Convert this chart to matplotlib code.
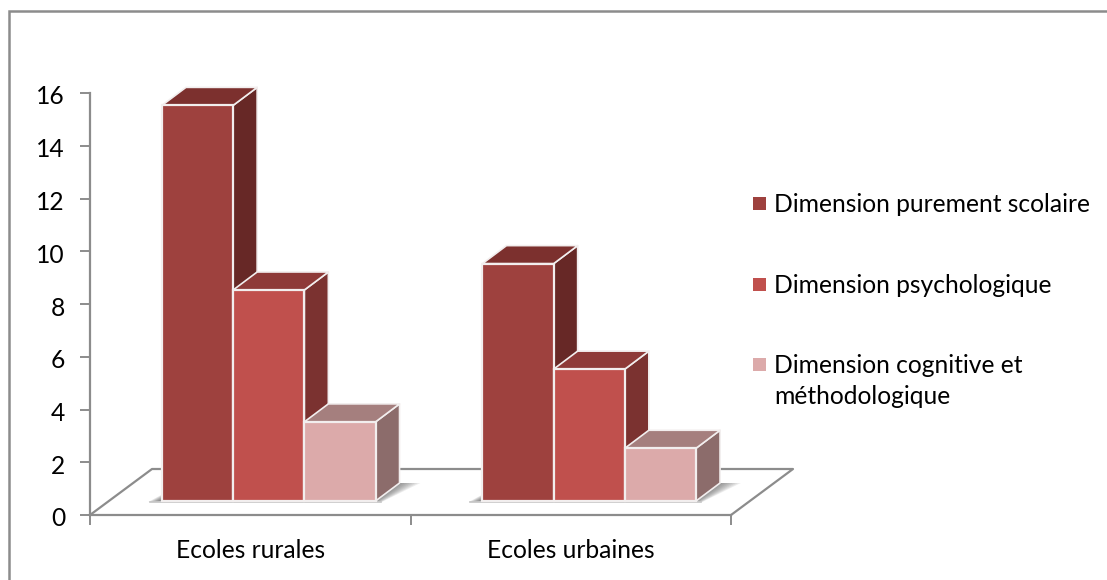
import matplotlib
matplotlib.use("Agg")
import matplotlib.pyplot as plt
from matplotlib.lines import Line2D
from matplotlib.patches import Polygon, Rectangle
from matplotlib.transforms import ScaledTranslation

plt.rcParams["font.family"] = ["Lato", "DejaVu Sans"]

categories = ["Ecoles rurales", "Ecoles urbaines"]
series = ["Dimension purement scolaire", "Dimension psychologique",
          "Dimension cognitive et\nméthodologique"]
scolaire = [15, 9]
psycho = [8, 5]
cognitive = [3, 2]
values = [scolaire, psycho, cognitive]

front_colors = ["#9e413e", "#c0504d", "#dcaaaa"]
top_colors = ["#7c302e", "#8e3a38", "#a57f7e"]
side_colors = ["#672826", "#7b3230", "#8c6c6b"]

W, H = 1107, 580
fig = plt.figure(figsize=(W / 100, H / 100), dpi=100)
# plot area in pixels: x 90..731, y 93..515
ax = fig.add_axes([90 / W, 1 - 515 / H, 641 / W, 422 / H])
ax.set_xlim(0, 2)
ax.set_ylim(0, 16)

px = 2 / 641      # one pixel in x units
py = 16 / 422     # one pixel in y units

# chart border, only top and left fall inside the frame
fig.add_artist(Line2D([9 / W, 9 / W, 1], [0, 1 - 11 / H, 1 - 11 / H], color="#8c8c8c",
                      lw=1.8, transform=fig.transFigure, solid_joinstyle="miter"))

# floor outline
floor_dx, floor_dy = 62 * px, 46 * py
ax.plot([0, floor_dx, 2 + floor_dx, 2], [0, floor_dy, floor_dy, 0],
        color="#8c8c8c", lw=1.6, clip_on=False, zorder=1)

# bar geometry
bar_w = 71.2 * px
x_off = 18.5 * px
y_off = 14 * py
dx, dy = 24 * px, 18 * py

for c in range(len(categories)):
    left = c + 0.5 - 1.5 * bar_w + x_off
    x_end = left + 3 * bar_w

    # soft shadow on the floor
    for i in range(8):
        a = 0.10
        grow = (8 - i) * 2.6 * px
        ax.add_patch(Polygon([(x_end, y_off), (x_end + dx, y_off + dy),
                              (x_end + dx + grow, y_off + dy),
                              (x_end + grow * 0.3, y_off - 1 * py)],
                             closed=True, fc="#555555", ec="none", alpha=a,
                             zorder=2, clip_on=False))
        ax.add_patch(Polygon([(left, y_off), (left, y_off + (8 - i) * 0.8 * py),
                              (left - (8 - i) * 1.7 * px, y_off - 1 * py)],
                             closed=True, fc="#444444", ec="none", alpha=a + 0.04,
                             zorder=2, clip_on=False))
    ax.plot([left - 12 * px, x_end + 5 * px], [y_off - 1 * py, y_off - 1 * py],
            color="#c4c4c4", lw=1.2, zorder=2, clip_on=False)

    # left to right so each side face gets overlapped by the next bar
    for s in range(len(series)):
        v = values[s][c]
        x0 = left + s * bar_w
        x1 = x0 + bar_w
        y0 = y_off
        y1 = y_off + v
        z = 3 + s
        ax.add_patch(Polygon([(x1, y0), (x1 + dx, y0 + dy), (x1 + dx, y1 + dy), (x1, y1)],
                             closed=True, fc=side_colors[s], ec="#f2eeee", lw=1.2,
                             joinstyle="round", zorder=z, clip_on=False))
        ax.add_patch(Polygon([(x0, y1), (x0 + dx, y1 + dy), (x1 + dx, y1 + dy), (x1, y1)],
                             closed=True, fc=top_colors[s], ec="#f2eeee", lw=1.2,
                             joinstyle="round", zorder=z, clip_on=False))
        ax.add_patch(Rectangle((x0, y0), bar_w, v, fc=front_colors[s], ec="#f2eeee",
                               lw=1.6, zorder=z, clip_on=False))

for side in ["top", "right"]:
    ax.spines[side].set_visible(False)
for side in ["left", "bottom"]:
    ax.spines[side].set_color("#8c8c8c")
    ax.spines[side].set_linewidth(1.6)

ax.set_yticks(range(0, 17, 2))
ax.set_xticks([0, 1, 2])
ax.set_xticklabels([])
ax.tick_params(axis="both", color="#8c8c8c", width=1.4, length=7, labelcolor="black")
ax.tick_params(axis="y", labelsize=17.7, pad=11)
# nudge the y labels down a little
shift = ScaledTranslation(0, -2 / 100, fig.dpi_scale_trans)
for label in ax.get_yticklabels():
    label.set_transform(label.get_transform() + shift)
for c, name in enumerate(categories):
    ax.annotate(name, (c + 0.5, 0), xytext=(0, -36), textcoords="offset pixels",
                ha="center", va="center", fontsize=17.7)

# legend, drawn by hand so the marker stays on the first line of a wrapped label
legend_y = [203, 284, 364]
for name, color, y in zip(series, front_colors, legend_y):
    fig.add_artist(Rectangle((752.5 / W, 1 - (y + 6.5) / H), 13 / W, 13 / H, fc=color, ec="none",
                             transform=fig.transFigure))
    fig.text(774 / W, 1 - (y - 10) / H, name, ha="left", va="top", fontsize=17.7,
             linespacing=1.42)

fig.savefig("out.png", dpi=100)
